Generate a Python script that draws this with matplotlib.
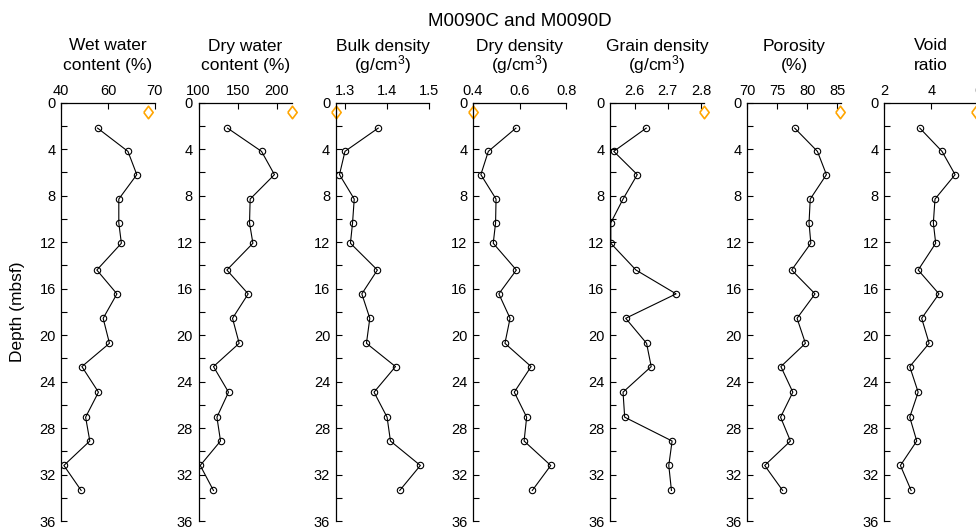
import matplotlib
matplotlib.use("Agg")
import matplotlib.pyplot as plt
from matplotlib.ticker import FixedLocator, FixedFormatter, MultipleLocator

plt.rcParams['font.family'] = ['Liberation Sans', 'DejaVu Sans']
plt.rcParams['mathtext.default'] = 'regular'

# sample depths (mbsf)
depth = [2.2, 4.2, 6.2, 8.3, 10.35, 12.1, 14.4, 16.45, 18.55, 20.7,
         22.7, 24.9, 27.05, 29.1, 31.2, 33.35]
ref_depth = 0.85

wet_water = [55.5, 68.5, 72.3, 64.6, 64.6, 65.7, 55.2, 63.8, 57.9, 60.6,
             48.8, 55.9, 50.4, 52.2, 41.1, 48.5]
dry_water = [137.0, 180.4, 196.9, 165.9, 165.1, 169.4, 136.2, 163.4, 143.4, 151.9,
             119.1, 138.3, 123.5, 128.1, 102.2, 119.1]
bulk_density = [1.379, 1.300, 1.287, 1.322, 1.318, 1.313, 1.377, 1.340, 1.359, 1.351,
                1.420, 1.369, 1.400, 1.408, 1.479, 1.430]
dry_density = [0.584, 0.466, 0.434, 0.499, 0.497, 0.487, 0.586, 0.511, 0.559, 0.537,
               0.649, 0.577, 0.630, 0.619, 0.733, 0.654]
grain_density = [2.635, 2.537, 2.608, 2.565, 2.528, 2.528, 2.604, 2.725, 2.573, 2.636,
                 2.650, 2.565, 2.570, 2.713, 2.703, 2.711]
porosity = [77.9, 81.7, 83.2, 80.5, 80.3, 80.6, 77.4, 81.3, 78.3, 79.7,
            75.6, 77.6, 75.55, 77.2, 72.9, 75.9]
void_ratio = [3.51, 4.46, 5.02, 4.16, 4.09, 4.19, 3.44, 4.33, 3.59, 3.91,
              3.08, 3.44, 3.08, 3.38, 2.68, 3.14]

# seawater reference values (orange diamonds)
ref_values = [77.3, 219.5, 1.278, 0.4, 2.81, 85.5, 5.9]

titles = [('Wet water', 'content (%)'), ('Dry water', 'content (%)'),
          ('Bulk density', '(g/cm$^3$)'), ('Dry density', '(g/cm$^3$)'),
          ('Grain density', '(g/cm$^3$)'), ('Porosity', '(%)'), ('Void', 'ratio')]
xlims = [(40, 80), (100, 219.3), (1.278, 1.5), (0.4, 0.8), (2.526, 2.808), (70, 85.6), (2, 6)]
xticks = [[40, 60, 80], [100, 150, 200], [1.3, 1.4, 1.5], [0.4, 0.6, 0.8],
          [2.6, 2.7, 2.8], [70, 75, 80, 85], [2, 4, 6]]
xticklabels = [['40', '60', '70'], ['100', '150', '200'], ['1.3', '1.4', '1.5'],
               ['0.4', '0.6', '0.8'], ['2.6', '2.7', '2.8'], ['70', '75', '80', '85'],
               ['2', '4', '6']]
series = [wet_water, dry_water, bulk_density, dry_density, grain_density, porosity, void_ratio]

# slightly wide diamond marker
diamond = [(-0.75, 0), (0, 1), (0.75, 0), (0, -1), (-0.75, 0)]

W, H = 976, 527
fig = plt.figure(figsize=(W / 100, H / 100), dpi=100)

top_px, bottom_px = 102.5, 521.3
ax_w = 93.5
axes = []
for i in range(7):
    left = 61.3 + 137.2 * i
    ax = fig.add_axes([left / W, 1 - bottom_px / H, ax_w / W, (bottom_px - top_px) / H])
    axes.append(ax)

    ax.plot(series[i], depth, color='black', lw=0.8, marker='o', ms=4.6,
            mfc='none', mec='black', mew=0.8)
    ax.plot([ref_values[i]], [ref_depth], linestyle='none', marker=diamond, ms=9,
            mfc='none', mec='orange', mew=1.2, clip_on=False)

    ax.set_xlim(*xlims[i])
    ax.set_ylim(36, 0)
    ax.xaxis.set_major_locator(FixedLocator(xticks[i]))
    ax.xaxis.set_major_formatter(FixedFormatter(xticklabels[i]))
    ax.xaxis.tick_top()
    ax.yaxis.set_major_locator(MultipleLocator(4))
    ax.yaxis.set_minor_locator(MultipleLocator(2))
    ax.tick_params(axis='both', which='both', direction='in', length=4,
                   width=0.8, labelsize=10.5, colors='black')
    ax.tick_params(axis='x', pad=3)
    ax.tick_params(axis='y', pad=4)
    for side in ['right', 'bottom']:
        ax.spines[side].set_visible(False)
    for side in ['left', 'top']:
        ax.spines[side].set_linewidth(0.9)

    # two-line column headers on fixed baselines
    cx = (left + ax_w / 2) / W
    fig.text(cx, 1 - 50.5 / H, titles[i][0], ha='center', va='baseline', fontsize=12.5)
    fig.text(cx, 1 - 70 / H, titles[i][1], ha='center', va='baseline', fontsize=12.5)

axes[0].set_ylabel('Depth (mbsf)', fontsize=12.5, labelpad=10)

mid = axes[3].get_position()
fig.text(mid.x0 + mid.width / 2, 1 - 26 / H, 'M0090C and M0090D',
         ha='center', va='baseline', fontsize=13.5)

fig.savefig('out.png', dpi=100)
